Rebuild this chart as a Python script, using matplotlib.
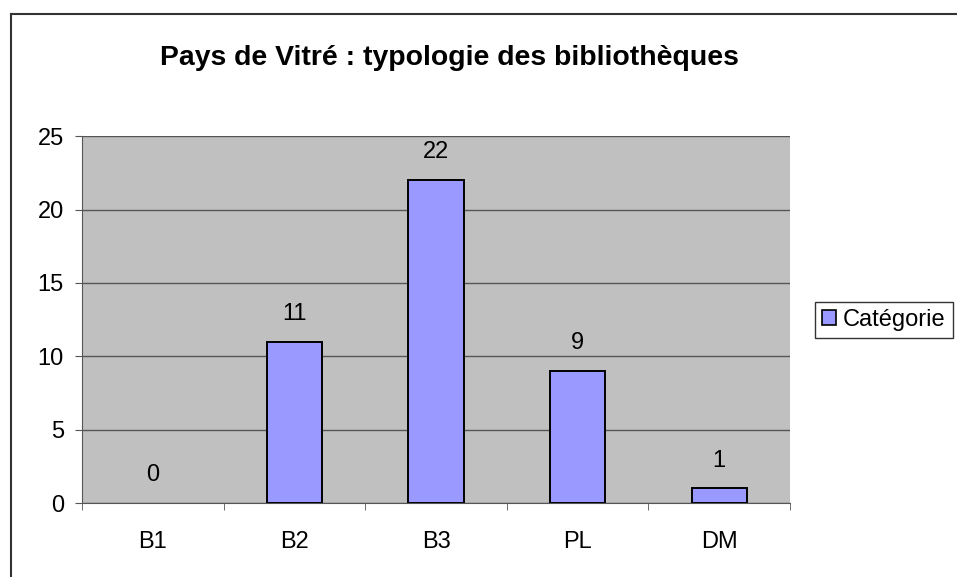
import matplotlib.pyplot as plt
from matplotlib.lines import Line2D
from matplotlib.patches import Patch

# data
categories = ['B1', 'B2', 'B3', 'PL', 'DM']
counts = [0, 11, 22, 9, 1]
series_name = 'Catégorie'
title = 'Pays de Vitré : typologie des bibliothèques'
yticks = [0, 5, 10, 15, 20, 25]

plt.rcParams['font.family'] = ['Liberation Sans', 'DejaVu Sans']

fig = plt.figure(figsize=(9.57, 5.77), dpi=100)
ax = fig.add_axes([0.0857, 0.128, 0.7398, 0.636])

ax.set_facecolor('#c0c0c0')
xs = range(len(categories))
# a zero bar shows no outline in the picture
lws = [1.4 if v > 0 else 0 for v in counts]
ax.bar(xs, counts, width=0.39, color='#9999ff', edgecolor='black',
       linewidth=lws, zorder=3)
for x, v in zip(xs, counts):
    ax.annotate(str(v), (x, v), xytext=(0, 20), textcoords='offset points',
                ha='center', va='center', fontsize=17)

ax.set_xlim(-0.5, len(categories) - 0.5)
ax.set_ylim(0, 25)
ax.set_yticks(yticks)
ax.set_yticklabels([str(t) for t in yticks], fontsize=17)
ax.yaxis.grid(True, color='#555555', linewidth=1, zorder=1)
ax.set_axisbelow(True)

# category labels at centres, tick marks between them
ax.set_xticks(list(xs))
ax.set_xticklabels(categories, fontsize=17)
ax.tick_params(axis='x', length=0, pad=20)
ax.set_xticks([i - 0.5 for i in range(len(categories) + 1)], minor=True)
ax.tick_params(axis='x', which='minor', length=5, color='#555555', direction='out')
ax.tick_params(axis='y', length=5, color='#555555', direction='out', pad=8)

for s in ['top', 'right']:
    ax.spines[s].set_visible(False)
ax.spines['left'].set_color('#555555')
ax.spines['bottom'].set_color('#555555')

fig.text(0.470, 0.899, title, ha='center', va='center', fontsize=20.4,
         fontweight='bold')

handle = Patch(facecolor='#9999ff', edgecolor='black', linewidth=1.2)
leg = ax.legend([handle], [series_name], loc='center left',
                bbox_to_anchor=(1.018, 0.5), fontsize=17,
                frameon=True, fancybox=False, edgecolor='black',
                handlelength=0.6, handleheight=0.6, handletextpad=0.3,
                borderpad=0.3)
leg.get_frame().set_linewidth(1)

# outer chart border (only top and left show in the picture)
fig.add_artist(Line2D([0.011, 0.011], [0, 0.976], color='#333333', lw=1.5))
fig.add_artist(Line2D([0.011, 1.0], [0.976, 0.976], color='#333333', lw=1.5))

fig.savefig('out.png', dpi=100)
